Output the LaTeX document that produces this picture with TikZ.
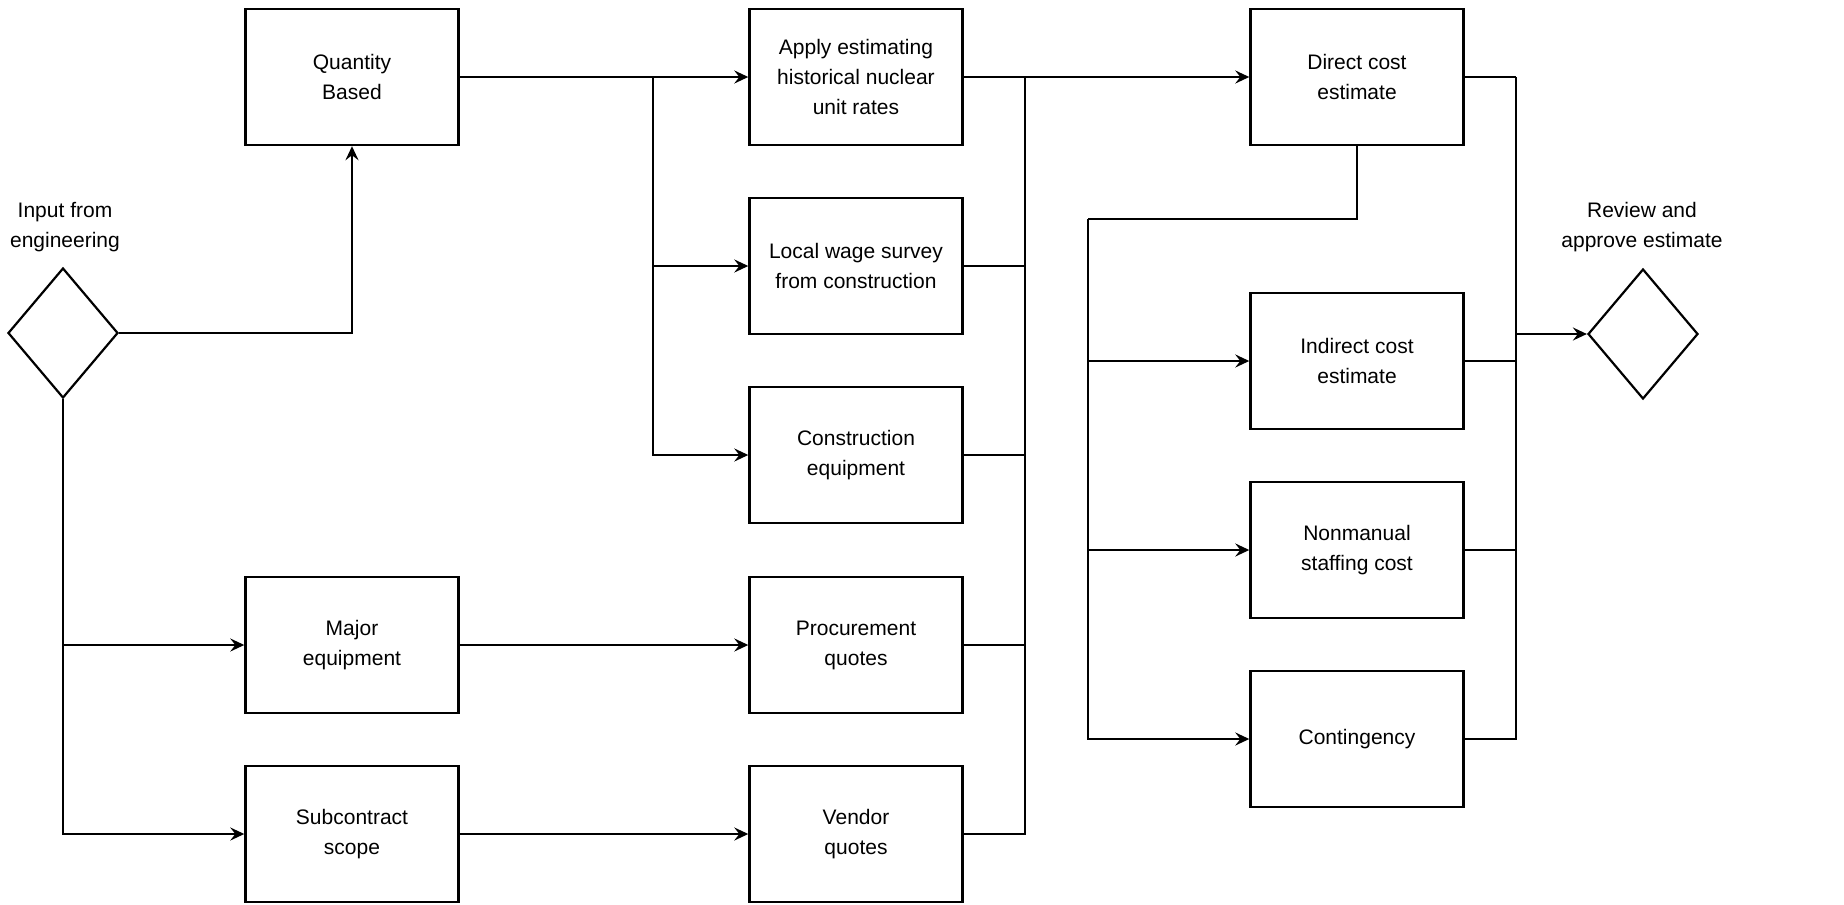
\documentclass[tikz,border=0pt]{standalone}
\usepackage{fontspec}
\setmainfont{Liberation Sans}
\usetikzlibrary{shapes.geometric, arrows.meta}

\tikzset{
    box/.style={draw, line width=1.2pt, rectangle, minimum width=106.5pt, minimum height=68pt,
        align=center, inner sep=2pt, font=\fontsize{10.5}{15}\selectfont},
    decision/.style={draw, line width=1.1pt, diamond, minimum width=55pt, minimum height=65pt, inner sep=0pt},
    caption/.style={align=center, font=\fontsize{10.5}{15}\selectfont},
    link/.style={line width=1.1pt}
}

\begin{document}
\begin{tikzpicture}[x=0.5pt, y=-0.5pt, >={Stealth[length=7pt, width=6.5pt, inset=2.5pt]}]

    \useasboundingbox (0,0) rectangle (1844,905);

    % Decisions
    \node[decision] (input) at (63,333) {};
    \node[caption] (inputlbl) at (65,227) {Input from\\engineering};
    \node[decision] (review) at (1643,334) {};
    \node[caption] (reviewlbl) at (1642,227) {Review and\\approve estimate};

    % First column
    \node[box] (qty) at (352,77) {Quantity\\Based};
    \node[box] (major) at (352,645) {Major\\equipment};
    \node[box] (subc) at (352,834) {Subcontract\\scope};

    % Second column
    \node[box] (apply) at (856,77) {Apply estimating\\historical nuclear\\unit rates};
    \node[box] (wage) at (856,266) {Local wage survey\\from construction};
    \node[box] (equip) at (856,455) {Construction\\equipment};
    \node[box] (procure) at (856,645) {Procurement\\quotes};
    \node[box] (vendor) at (856,834) {Vendor\\quotes};

    % Third column
    \node[box] (direct) at (1357,77) {Direct cost\\estimate};
    \node[box] (indirect) at (1357,361) {Indirect cost\\estimate};
    \node[box] (nonman) at (1357,550) {Nonmanual\\staffing cost};
    \node[box] (conting) at (1357,739) {Contingency};

    % Junctions
    \coordinate (qsplit) at (653,77);
    \coordinate (merge) at (1025,77);
    \coordinate (dsplit) at (1088,219);
    \coordinate (join) at (1516,77);

    % Input to first column
    \draw[link, ->] (input.east) -| (qty.south);
    \draw[link, ->] (input.south) |- (subc.west);
    \draw[link, ->] (input.south |- major.west) -- (major.west);

    % First column to second column
    \draw[link, ->] (qty.east) -- (apply.west);
    \draw[link, ->] (qsplit) |- (wage.west);
    \draw[link, ->] (qsplit) |- (equip.west);
    \draw[link, ->] (major.east) -- (procure.west);
    \draw[link, ->] (subc.east) -- (vendor.west);

    % Second column to direct cost
    \draw[link, ->] (apply.east) -- (direct.west);
    \draw[link] (wage.east) -| (merge);
    \draw[link] (equip.east) -| (merge);
    \draw[link] (procure.east) -| (merge);
    \draw[link] (vendor.east) -| (merge);

    % Direct cost to the other estimates
    \draw[link] (direct.south) |- (dsplit);
    \draw[link, ->] (dsplit) |- (indirect.west);
    \draw[link, ->] (dsplit) |- (nonman.west);
    \draw[link, ->] (dsplit) |- (conting.west);

    % Estimates to review
    \draw[link] (direct.east) -- (join);
    \draw[link] (indirect.east) -| (join);
    \draw[link] (nonman.east) -| (join);
    \draw[link] (conting.east) -| (join);
    \draw[link, ->] (join |- review.west) -- (review.west);

\end{tikzpicture}
\end{document}
